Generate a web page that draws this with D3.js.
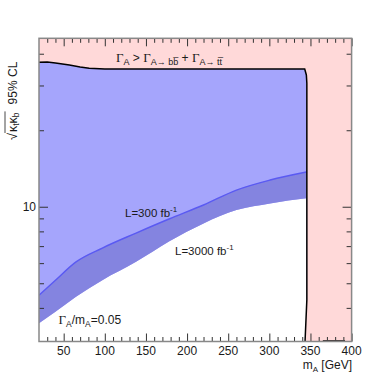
<!DOCTYPE html>
<html>
<head>
<meta charset="utf-8">
<script src="https://cdn.jsdelivr.net/npm/d3@7"></script>
<style>
  body { margin: 0; background: #fff; }
  svg text { font-family: "Liberation Sans", Arial, Helvetica, sans-serif; fill: #1a1a1a; }
  .serif { font-family: "Liberation Serif", "DejaVu Serif", serif; }
</style>
</head>
<body>
<svg id="chart" width="390" height="379"></svg>
<script>
// band edges (m_A in GeV, sqrt(kt*kb))
var mass = [20, 40, 65, 97, 138, 178, 220, 260, 301, 345];
var lumi300 = [4.49, 5.14, 6.07, 6.88, 7.88, 8.95, 10.16, 11.63, 12.74, 13.7];
var lumi3000 = [3.48, 3.86, 4.42, 5.14, 6.07, 7.30, 8.60, 9.70, 10.31, 10.79];

// total width limit contour
var edgeMass = [20, 30, 40, 57, 70, 81, 100, 138, 343, 345, 345.6, 345.6, 343.4];
var edgeCoupling = [37.0, 37.1, 36.8, 36.1, 35.5, 35.1, 34.85, 34.8, 34.8, 33.0, 30.6, 4.3, 2.95];
var edgeBottomMass = [365, 392];

var xMajor = [50, 100, 150, 200, 250, 300, 350, 400];
var xMinor = d3.range(30, 400, 10).filter(function(v) { return v % 50 !== 0; });
var yMajor = [10];
var yMinor = [4, 5, 6, 7, 8, 9, 20, 30, 40];

var svg = d3.select("#chart");
var pLeft = 39, pRight = 351.6, pTop = 38.3, pBottom = 341.5;

var x = d3.scaleLinear().domain([20, 400]).range([pLeft, pRight]);
var y = d3.scaleLog().domain([2.95, 46]).range([pBottom, pTop]);

// pink background = excluded region
svg.append("rect")
    .attr("x", pLeft).attr("y", pTop)
    .attr("width", pRight - pLeft).attr("height", pBottom - pTop)
    .attr("fill", "#ffd9d9");

var edgePts = edgeMass.map(function(m, i) { return [m, edgeCoupling[i]]; });
var regionPts = edgePts.concat([[20, 2.95]]);

var lin = d3.line().x(function(d) { return x(d[0]); }).y(function(d) { return y(d[1]); });

svg.append("clipPath").attr("id", "allowed")
    .append("path").attr("d", lin(regionPts) + "Z");

var g = svg.append("g").attr("clip-path", "url(#allowed)");

g.append("path")
    .attr("d", lin(regionPts) + "Z")
    .attr("fill", "#a5a5fc");

var rows = mass.map(function(m, i) { return { m: m, hi: lumi300[i], lo: lumi3000[i] }; });

// white below the 3000 fb-1 edge
g.append("path")
    .datum(rows)
    .attr("fill", "#fff")
    .attr("d", d3.area()
        .curve(d3.curveMonotoneX)
        .x(function(d) { return x(d.m); })
        .y0(pBottom + 2)
        .y1(function(d) { return y(d.lo); }));

// darker band between the two luminosities
g.append("path")
    .datum(rows)
    .attr("fill", "#8484e0")
    .attr("d", d3.area()
        .curve(d3.curveMonotoneX)
        .x(function(d) { return x(d.m); })
        .y0(function(d) { return y(d.lo); })
        .y1(function(d) { return y(d.hi); }));

g.append("path")
    .datum(rows)
    .attr("fill", "none")
    .attr("stroke", "#5a5af2")
    .attr("stroke-width", 1.4)
    .attr("d", d3.line()
        .curve(d3.curveMonotoneX)
        .x(function(d) { return x(d.m); })
        .y(function(d) { return y(d.hi); }));

// black contour
svg.append("path")
    .attr("d", lin(edgePts))
    .attr("fill", "none")
    .attr("stroke", "#000")
    .attr("stroke-width", 1.5);

svg.append("line")
    .attr("x1", x(edgeBottomMass[0])).attr("x2", x(edgeBottomMass[1]))
    .attr("y1", pBottom - 0.5).attr("y2", pBottom - 0.5)
    .attr("stroke", "#000").attr("stroke-width", 1.5);

// ticks
function tickAxis(axis, len, tr) {
    var a = svg.append("g").attr("transform", tr)
        .call(axis.tickSize(-len).tickFormat(""));
    a.select(".domain").remove();
    a.selectAll(".tick line").attr("stroke", "#333").attr("stroke-width", 1);
}
tickAxis(d3.axisBottom(x).tickValues(xMajor), 8, "translate(0," + pBottom + ")");
tickAxis(d3.axisBottom(x).tickValues(xMinor), 4.5, "translate(0," + pBottom + ")");
tickAxis(d3.axisTop(x).tickValues(xMajor), 8, "translate(0," + pTop + ")");
tickAxis(d3.axisTop(x).tickValues(xMinor), 4.5, "translate(0," + pTop + ")");
tickAxis(d3.axisLeft(y).tickValues(yMajor), 9, "translate(" + pLeft + ",0)");
tickAxis(d3.axisLeft(y).tickValues(yMinor), 5, "translate(" + pLeft + ",0)");
tickAxis(d3.axisRight(y).tickValues(yMajor), 9, "translate(" + pRight + ",0)");
tickAxis(d3.axisRight(y).tickValues(yMinor), 5, "translate(" + pRight + ",0)");

svg.append("rect")
    .attr("x", pLeft).attr("y", pTop)
    .attr("width", pRight - pLeft).attr("height", pBottom - pTop)
    .attr("fill", "none")
    .attr("stroke", "#888")
    .attr("stroke-width", 1.5);

// tick labels
svg.selectAll(".xlab").data(xMajor).enter().append("text")
    .attr("x", function(d) { return x(d); })
    .attr("y", 355)
    .attr("text-anchor", "middle")
    .attr("font-size", 12)
    .text(function(d) { return d; });

svg.selectAll(".ylab").data(yMajor).enter().append("text")
    .attr("x", pLeft - 3)
    .attr("y", function(d) { return y(d) + 4.5; })
    .attr("text-anchor", "end")
    .attr("font-size", 12)
    .text(function(d) { return d; });

// axis titles
var xt = svg.append("text").attr("x", 352).attr("y", 369).attr("text-anchor", "end").attr("font-size", 12);
xt.append("tspan").text("m");
xt.append("tspan").attr("font-size", 8).attr("dy", 3).text("A");
xt.append("tspan").attr("dy", -3).text(" [GeV]");

var yt = svg.append("g").attr("transform", "translate(16.5,140) rotate(-90)");
yt.append("text").attr("x", 0).attr("y", 0).attr("font-size", 13)
    .attr("font-family", "DejaVu Sans").text("\u221A");
var kap = yt.append("text").attr("x", 8).attr("y", 0).attr("font-size", 12.5);
kap.append("tspan").text("\u03BA");
kap.append("tspan").attr("font-size", 8.5).attr("dy", 2.5).text("t");
kap.append("tspan").attr("dy", -2.5).text("\u03BA");
kap.append("tspan").attr("font-size", 8.5).attr("dy", 2.5).text("b");
var kw = kap.node().getComputedTextLength();
yt.append("line")
    .attr("x1", 7).attr("x2", 8 + kw + 1)
    .attr("y1", -11.5).attr("y2", -11.5)
    .attr("stroke", "#1a1a1a").attr("stroke-width", 0.8);
yt.append("text").attr("x", 8 + kw + 8).attr("y", 0).attr("font-size", 12)
    .text("95% CL");

// labels in the plot
var gam = svg.append("text").attr("x", 116).attr("y", 61.5).attr("font-size", 12);
gam.append("tspan").attr("class", "serif").attr("font-size", 13).text("\u0393");
gam.append("tspan").attr("font-size", 9).attr("dy", 3).text("A");
gam.append("tspan").attr("dy", -3).text(" > ");
gam.append("tspan").attr("class", "serif").attr("font-size", 13).text("\u0393");
gam.append("tspan").attr("font-size", 9).attr("dy", 3.5).text("A\u2192 bb\u0305");
gam.append("tspan").attr("dy", -3.5).text(" + ");
gam.append("tspan").attr("class", "serif").attr("font-size", 13).text("\u0393");
gam.append("tspan").attr("font-size", 9).attr("dy", 3.5).text("A\u2192 tt\u0305");

function lumiLabel(tx, ty, val) {
    var t = svg.append("text").attr("x", tx).attr("y", ty).attr("font-size", 11.5);
    t.append("tspan").text("L=" + val + " fb");
    t.append("tspan").attr("font-size", 8).attr("dy", -5).text("-1");
}
lumiLabel(125, 217.3, 300);
lumiLabel(175, 255, 3000);

var wl = svg.append("text").attr("x", 58.5).attr("y", 324).attr("font-size", 12);
wl.append("tspan").attr("class", "serif").attr("font-size", 13).text("\u0393");
wl.append("tspan").attr("font-size", 8.5).attr("dy", 3).text("A");
wl.append("tspan").attr("dy", -3).text("/m");
wl.append("tspan").attr("font-size", 8.5).attr("dy", 3).text("A");
wl.append("tspan").attr("dy", -3).text("=0.05");
</script>
</body>
</html>
